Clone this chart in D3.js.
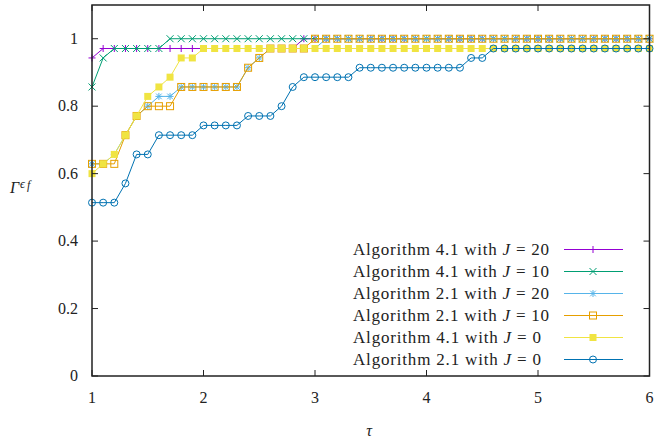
<!DOCTYPE html>
<html>
<head>
<meta charset="utf-8">
<script src="https://cdn.jsdelivr.net/npm/d3@7"></script>
<style>
  html, body { margin: 0; padding: 0; background: #fff; }
  svg { display: block; }
  text { font-family: "Liberation Serif", "Times New Roman", serif; fill: #222; }
</style>
</head>
<body>
<svg id="chart" width="655" height="445"></svg>
<script>
// Performance profile: fraction of problems solved within a factor tau of the best solver
const tau = [1.0, 1.1, 1.2, 1.3, 1.4, 1.5, 1.6, 1.7, 1.8, 1.9,
             2.0, 2.1, 2.2, 2.3, 2.4, 2.5, 2.6, 2.7, 2.8, 2.9,
             3.0, 3.1, 3.2, 3.3, 3.4, 3.5, 3.6, 3.7, 3.8, 3.9,
             4.0, 4.1, 4.2, 4.3, 4.4, 4.5, 4.6, 4.7, 4.8, 4.9,
             5.0, 5.1, 5.2, 5.3, 5.4, 5.5, 5.6, 5.7, 5.8, 5.9, 6.0];

const alg41J20 = [0.943, 0.971, 0.971, 0.971, 0.971, 0.971, 0.971, 0.971, 0.971, 0.971,
                  0.971, 0.971, 0.971, 0.971, 0.971, 0.971, 0.971, 0.971, 0.971, 1,
                  1, 1, 1, 1, 1, 1, 1, 1, 1, 1,
                  1, 1, 1, 1, 1, 1, 1, 1, 1, 1,
                  1, 1, 1, 1, 1, 1, 1, 1, 1, 1, 1];

const alg41J10 = [0.857, 0.943, 0.971, 0.971, 0.971, 0.971, 0.971, 1, 1, 1,
                  1, 1, 1, 1, 1, 1, 1, 1, 1, 1,
                  1, 1, 1, 1, 1, 1, 1, 1, 1, 1,
                  1, 1, 1, 1, 1, 1, 1, 1, 1, 1,
                  1, 1, 1, 1, 1, 1, 1, 1, 1, 1, 1];

const alg21J20 = [0.629, 0.629, 0.657, 0.714, 0.771, 0.8, 0.829, 0.829, 0.857, 0.857,
                  0.857, 0.857, 0.857, 0.857, 0.914, 0.943, 0.971, 0.971, 0.971, 0.971,
                  0.971, 1, 1, 1, 1, 1, 1, 1, 1, 1,
                  1, 1, 1, 1, 1, 1, 1, 1, 1, 1,
                  1, 1, 1, 1, 1, 1, 1, 1, 1, 1, 1];

const alg21J10 = [0.629, 0.629, 0.629, 0.714, 0.771, 0.8, 0.8, 0.8, 0.857, 0.857,
                  0.857, 0.857, 0.857, 0.857, 0.914, 0.943, 0.971, 0.971, 0.971, 0.971,
                  1, 1, 1, 1, 1, 1, 1, 1, 1, 1,
                  1, 1, 1, 1, 1, 1, 1, 1, 1, 1,
                  1, 1, 1, 1, 1, 1, 1, 1, 1, 1, 1];

const alg41J0 = [0.6, 0.629, 0.657, 0.714, 0.771, 0.829, 0.857, 0.886, 0.943, 0.943,
                 0.971, 0.971, 0.971, 0.971, 0.971, 0.971, 0.971, 0.971, 0.971, 0.971,
                 0.971, 0.971, 0.971, 0.971, 0.971, 0.971, 0.971, 0.971, 0.971, 0.971,
                 0.971, 0.971, 0.971, 0.971, 0.971, 0.971, 0.971, 0.971, 0.971, 0.971,
                 0.971, 0.971, 0.971, 0.971, 0.971, 0.971, 0.971, 0.971, 0.971, 0.971, 0.971];

const alg21J0 = [0.514, 0.514, 0.514, 0.571, 0.657, 0.657, 0.714, 0.714, 0.714, 0.714,
                 0.743, 0.743, 0.743, 0.743, 0.771, 0.771, 0.771, 0.8, 0.857, 0.886,
                 0.886, 0.886, 0.886, 0.886, 0.914, 0.914, 0.914, 0.914, 0.914, 0.914,
                 0.914, 0.914, 0.914, 0.914, 0.943, 0.943, 0.971, 0.971, 0.971, 0.971,
                 0.971, 0.971, 0.971, 0.971, 0.971, 0.971, 0.971, 0.971, 0.971, 0.971, 0.971];

const seriesNames = ["Algorithm 4.1", "Algorithm 4.1", "Algorithm 2.1", "Algorithm 2.1", "Algorithm 4.1", "Algorithm 2.1"];
const seriesJ = ["20", "10", "20", "10", "0", "0"];
const seriesValues = [alg41J20, alg41J10, alg21J20, alg21J10, alg41J0, alg21J0];
const seriesColors = ["#9400d3", "#009e73", "#56b4e9", "#e69f00", "#f0e442", "#0072b2"];
const seriesMarkers = ["plus", "cross", "star", "square", "filledSquare", "circle"];

const xTicks = [1, 2, 3, 4, 5, 6];
const yTicks = [0, 0.2, 0.4, 0.6, 0.8, 1];

const svg = d3.select("#chart");
const plotLeft = 92, plotRight = 649.5, plotTop = 5, plotBottom = 376;

const x = d3.scaleLinear().domain([1, 6]).range([plotLeft, plotRight]);
const y = d3.scaleLinear().domain([0, 1.1]).range([plotBottom, plotTop]);

// Marker shapes (gnuplot-style point types)
function drawMarker(g, type, color, cx, cy) {
  const s = 3.5;
  if (type === "plus") {
    g.append("path").attr("d", `M${cx - s},${cy}H${cx + s}M${cx},${cy - s}V${cy + s}`)
      .attr("stroke", color).attr("stroke-width", 1).attr("fill", "none");
  } else if (type === "cross") {
    g.append("path").attr("d", `M${cx - s},${cy - s}L${cx + s},${cy + s}M${cx - s},${cy + s}L${cx + s},${cy - s}`)
      .attr("stroke", color).attr("stroke-width", 1).attr("fill", "none");
  } else if (type === "star") {
    g.append("path").attr("d", `M${cx - s},${cy}H${cx + s}M${cx},${cy - s}V${cy + s}M${cx - s * 0.8},${cy - s * 0.8}L${cx + s * 0.8},${cy + s * 0.8}M${cx - s * 0.8},${cy + s * 0.8}L${cx + s * 0.8},${cy - s * 0.8}`)
      .attr("stroke", color).attr("stroke-width", 1).attr("fill", "none");
  } else if (type === "square") {
    g.append("rect").attr("x", cx - s).attr("y", cy - s).attr("width", 2 * s).attr("height", 2 * s)
      .attr("stroke", color).attr("stroke-width", 1).attr("fill", "none");
  } else if (type === "filledSquare") {
    g.append("rect").attr("x", cx - s).attr("y", cy - s).attr("width", 2 * s).attr("height", 2 * s)
      .attr("fill", color);
  } else if (type === "circle") {
    g.append("circle").attr("cx", cx).attr("cy", cy).attr("r", s)
      .attr("stroke", color).attr("stroke-width", 1).attr("fill", "none");
  }
}

// Series lines and markers
const line = d3.line().x((d, i) => x(tau[i])).y(d => y(d));
const plot = svg.append("g");
seriesValues.forEach((vals, k) => {
  const g = plot.append("g");
  g.append("path").datum(vals).attr("d", line)
    .attr("fill", "none").attr("stroke", seriesColors[k]).attr("stroke-width", 1);
  vals.forEach((v, i) => drawMarker(g, seriesMarkers[k], seriesColors[k], x(tau[i]), y(v)));
});

// Frame and inward ticks on all four sides
const axisColor = "#222";
svg.append("rect").attr("x", plotLeft).attr("y", plotTop).attr("width", plotRight - plotLeft).attr("height", plotBottom - plotTop)
  .attr("fill", "none").attr("stroke", axisColor).attr("stroke-width", 1.5);

const tickLen = 6;
xTicks.forEach(t => {
  const px = x(t);
  svg.append("line").attr("x1", px).attr("x2", px).attr("y1", plotBottom).attr("y2", plotBottom - tickLen)
    .attr("stroke", axisColor).attr("stroke-width", 1);
  svg.append("line").attr("x1", px).attr("x2", px).attr("y1", plotTop).attr("y2", plotTop + tickLen)
    .attr("stroke", axisColor).attr("stroke-width", 1);
  svg.append("text").attr("x", px).attr("y", 403).attr("text-anchor", "middle")
    .attr("font-size", 16).text(d3.format("d")(t));
});
yTicks.forEach(t => {
  const py = y(t);
  svg.append("line").attr("x1", plotLeft).attr("x2", plotLeft + tickLen).attr("y1", py).attr("y2", py)
    .attr("stroke", axisColor).attr("stroke-width", 1);
  svg.append("line").attr("x1", plotRight).attr("x2", plotRight - tickLen).attr("y1", py).attr("y2", py)
    .attr("stroke", axisColor).attr("stroke-width", 1);
  svg.append("text").attr("x", 78).attr("y", py + 5).attr("text-anchor", "end")
    .attr("font-size", 16).text(t === 0 || t === 1 ? d3.format("d")(t) : d3.format(".1f")(t));
});

// Axis titles
svg.append("text").attr("x", 369).attr("y", 436).attr("text-anchor", "middle")
  .attr("font-size", 16).attr("font-style", "italic").text("τ");
const yl = svg.append("text").attr("x", 10).attr("y", 193).attr("font-size", 16);
yl.append("tspan").attr("font-style", "italic").text("Γ");
yl.append("tspan").attr("font-style", "italic").attr("font-size", 12).attr("dy", -5).attr("dx", 1).text("ϵ");
yl.append("tspan").attr("font-style", "italic").attr("font-size", 12).attr("dy", 1).attr("dx", 2).text("f");

// Legend
const legendTop = 249.5, legendStep = 22;
seriesValues.forEach((vals, k) => {
  const ly = legendTop + k * legendStep;
  const t = svg.append("text").attr("x", 353).attr("y", ly + 5).attr("font-size", 17)
    .attr("textLength", seriesJ[k].length > 1 ? 196 : 188).attr("lengthAdjust", "spacing");
  t.append("tspan").text(seriesNames[k] + " with ");
  t.append("tspan").attr("font-style", "italic").text("J");
  t.append("tspan").text(" = " + seriesJ[k]);
  const g = svg.append("g");
  g.append("line").attr("x1", 564).attr("x2", 623).attr("y1", ly).attr("y2", ly)
    .attr("stroke", seriesColors[k]).attr("stroke-width", 1);
  drawMarker(g, seriesMarkers[k], seriesColors[k], 593, ly);
});
</script>
</body>
</html>
